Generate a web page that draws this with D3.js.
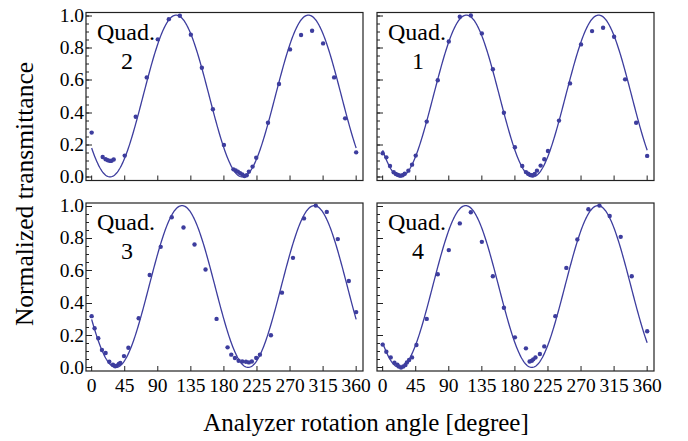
<!DOCTYPE html>
<html>
<head>
<meta charset="utf-8">
<style>
    body { margin: 0; background: #fff; }
    svg { font-family: "Liberation Serif", "Times New Roman", serif; }
    .frame { fill: none; stroke: #222; stroke-width: 1.2; }
    .tick { stroke: #222; stroke-width: 1; }
    .fit { fill: none; stroke: #3d3d9e; stroke-width: 1.3; }
    .pt { fill: #3d3d9e; }
</style>
</head>
<body>
<svg id="chart"></svg>
<script src="https://d3js.org/d3.v7.min.js"></script>
<script>
    // measured points, quadrant by quadrant (angle in degrees, normalized transmittance)
    var q1Angle = [0, 5, 10, 15, 18, 21, 24, 27, 30, 35, 40, 45, 60, 75, 90, 105, 120, 135, 150, 165, 180, 190, 195, 198, 201, 204, 207, 210, 215, 220, 225, 240, 255, 270, 285, 300, 315, 330, 345, 360];
    var q1Value = [0.146, 0.121, 0.068, 0.029, 0.018, 0.012, 0.008, 0.010, 0.020, 0.039, 0.076, 0.132, 0.342, 0.597, 0.837, 0.990, 0.998, 0.887, 0.665, 0.397, 0.183, 0.068, 0.030, 0.020, 0.012, 0.010, 0.018, 0.039, 0.070, 0.109, 0.160, 0.348, 0.578, 0.819, 0.901, 0.922, 0.866, 0.603, 0.335, 0.130];

    var q2Angle = [0, 15, 19, 22, 25, 27, 30, 45, 60, 75, 90, 105, 120, 135, 150, 165, 180, 193, 196, 199, 202, 205, 208, 211, 214, 219, 224, 240, 255, 270, 285, 300, 315, 330, 345, 360];
    var q2Value = [0.274, 0.123, 0.109, 0.103, 0.099, 0.100, 0.108, 0.132, 0.372, 0.615, 0.850, 0.975, 0.996, 0.879, 0.675, 0.418, 0.198, 0.047, 0.040, 0.033, 0.023, 0.015, 0.006, 0.010, 0.033, 0.064, 0.119, 0.335, 0.574, 0.788, 0.877, 0.903, 0.825, 0.615, 0.362, 0.152];

    var q3Angle = [0, 4, 9, 14, 19, 24, 29, 32, 34, 37, 39, 44, 50, 64, 79, 94, 109, 125, 140, 155, 170, 185, 190, 195, 200, 205, 210, 214, 218, 224, 229, 244, 259, 274, 289, 305, 320, 335, 350, 360];
    var q3Value = [0.317, 0.242, 0.180, 0.108, 0.089, 0.035, 0.017, 0.007, 0.010, 0.022, 0.027, 0.070, 0.122, 0.304, 0.571, 0.745, 0.928, 0.865, 0.760, 0.605, 0.300, 0.124, 0.079, 0.058, 0.041, 0.037, 0.035, 0.031, 0.037, 0.058, 0.079, 0.199, 0.462, 0.677, 0.921, 1.000, 0.961, 0.793, 0.534, 0.342];

    var q4Angle = [0, 5, 11, 16, 20, 22, 25, 28, 31, 33, 36, 40, 46, 60, 75, 90, 105, 120, 135, 150, 165, 180, 195, 200, 203, 205, 208, 214, 220, 235, 250, 265, 280, 295, 309, 324, 339, 360];
    var q4Value = [0.141, 0.097, 0.062, 0.029, 0.017, 0.006, 0.000, 0.006, 0.015, 0.031, 0.046, 0.062, 0.139, 0.300, 0.576, 0.725, 0.890, 0.959, 0.776, 0.563, 0.369, 0.186, 0.118, 0.037, 0.041, 0.050, 0.062, 0.083, 0.130, 0.317, 0.615, 0.791, 0.977, 1.000, 0.936, 0.807, 0.563, 0.224];

    // fitted Malus-law curves: T = cos^2(angle - phase), phase
    var fitPhase = { "1": 114, "2": 115, "3": 123, "4": 113 };

    var xTicks = [0, 45, 90, 135, 180, 225, 270, 315, 360];
    var yTicks = [0, 0.2, 0.4, 0.6, 0.8, 1.0];
    var yMinorTicks = d3.range(0, 1.001, 0.05);

    var width = 688, height = 441;
    var pw = 277, ph = 168;

    // panel layout: name, data, position, which labels it carries
    var panels = [
        { name: "2", angle: q2Angle, value: q2Value, x0: 86, y0: 12.5, yLabels: true, xLabels: false },
        { name: "1", angle: q1Angle, value: q1Value, x0: 377, y0: 12.5, yLabels: false, xLabels: false },
        { name: "3", angle: q3Angle, value: q3Value, x0: 86, y0: 203, yLabels: true, xLabels: true },
        { name: "4", angle: q4Angle, value: q4Value, x0: 377, y0: 203, yLabels: false, xLabels: true }
    ];

    var svg = d3.select('#chart')
        .attr('width', width)
        .attr('height', height);

    var x = d3.scaleLinear().domain([-7.7, 369.3]).range([0, pw]);
    var y = d3.scaleLinear().domain([-0.022, 1.016]).range([ph, 0]);

    panels.forEach(function (p) {
        var g = svg.append('g').attr('transform', 'translate(' + p.x0 + ',' + p.y0 + ')');

        // fit curve, sampled every degree
        var phase = fitPhase[p.name];
        var curve = d3.range(0, 360.5, 1).map(function (a) {
            var c = Math.cos((a - phase) * Math.PI / 180);
            return [a, c * c];
        });
        g.append('path')
            .attr('class', 'fit')
            .attr('d', d3.line().x(function (d) { return x(d[0]); }).y(function (d) { return y(d[1]); })(curve));

        // data points
        g.selectAll('circle')
            .data(p.angle.map(function (a, i) { return [a, p.value[i]]; }))
            .join('circle')
            .attr('class', 'pt')
            .attr('r', 2.2)
            .attr('cx', function (d) { return x(d[0]); })
            .attr('cy', function (d) { return y(d[1]); });

        // y ticks (left edge, pointing in)
        g.selectAll('.ymin')
            .data(yMinorTicks)
            .join('line')
            .attr('class', 'tick ymin')
            .attr('x1', 0).attr('x2', 3)
            .attr('y1', function (d) { return Math.round(y(d)) + 0.5; })
            .attr('y2', function (d) { return Math.round(y(d)) + 0.5; });
        g.selectAll('.ymaj')
            .data(yTicks)
            .join('line')
            .attr('class', 'tick ymaj')
            .attr('x1', 0).attr('x2', 6)
            .attr('y1', function (d) { return Math.round(y(d)) + 0.5; })
            .attr('y2', function (d) { return Math.round(y(d)) + 0.5; });

        // x ticks (bottom edge, pointing up)
        g.selectAll('.xmaj')
            .data(xTicks)
            .join('line')
            .attr('class', 'tick xmaj')
            .attr('x1', function (d) { return x(d); })
            .attr('x2', function (d) { return x(d); })
            .attr('y1', ph).attr('y2', ph - 5);

        g.append('rect')
            .attr('class', 'frame')
            .attr('width', pw)
            .attr('height', ph);

        if (p.yLabels) {
            g.selectAll('.ylab')
                .data(yTicks)
                .join('text')
                .attr('class', 'ylab')
                .attr('x', -2)
                .attr('y', function (d) { return y(d) + 6.5; })
                .attr('text-anchor', 'end')
                .attr('font-size', 19.5)
                .text(function (d) { return d3.format('.1f')(d); });
        }
        if (p.xLabels) {
            g.selectAll('.xlab')
                .data(xTicks)
                .join('text')
                .attr('class', 'xlab')
                .attr('x', function (d) { return x(d); })
                .attr('y', ph + 21)
                .attr('text-anchor', 'middle')
                .attr('font-size', 19.5)
                .text(function (d) { return d; });
        }

        // quadrant label
        g.append('text')
            .attr('x', 11)
            .attr('y', 27)
            .attr('font-size', 24)
            .text('Quad.');
        g.append('text')
            .attr('x', 41)
            .attr('y', 56)
            .attr('text-anchor', 'middle')
            .attr('font-size', 24)
            .text(p.name);
    });

    // axis titles
    svg.append('text')
        .attr('transform', 'translate(33,194) rotate(-90)')
        .attr('text-anchor', 'middle')
        .attr('font-size', 25.5)
        .text('Normalized transmittance');

    svg.append('text')
        .attr('x', 366)
        .attr('y', 431)
        .attr('text-anchor', 'middle')
        .attr('font-size', 25)
        .text('Analyzer rotation angle [degree]');
</script>
</body>
</html>
